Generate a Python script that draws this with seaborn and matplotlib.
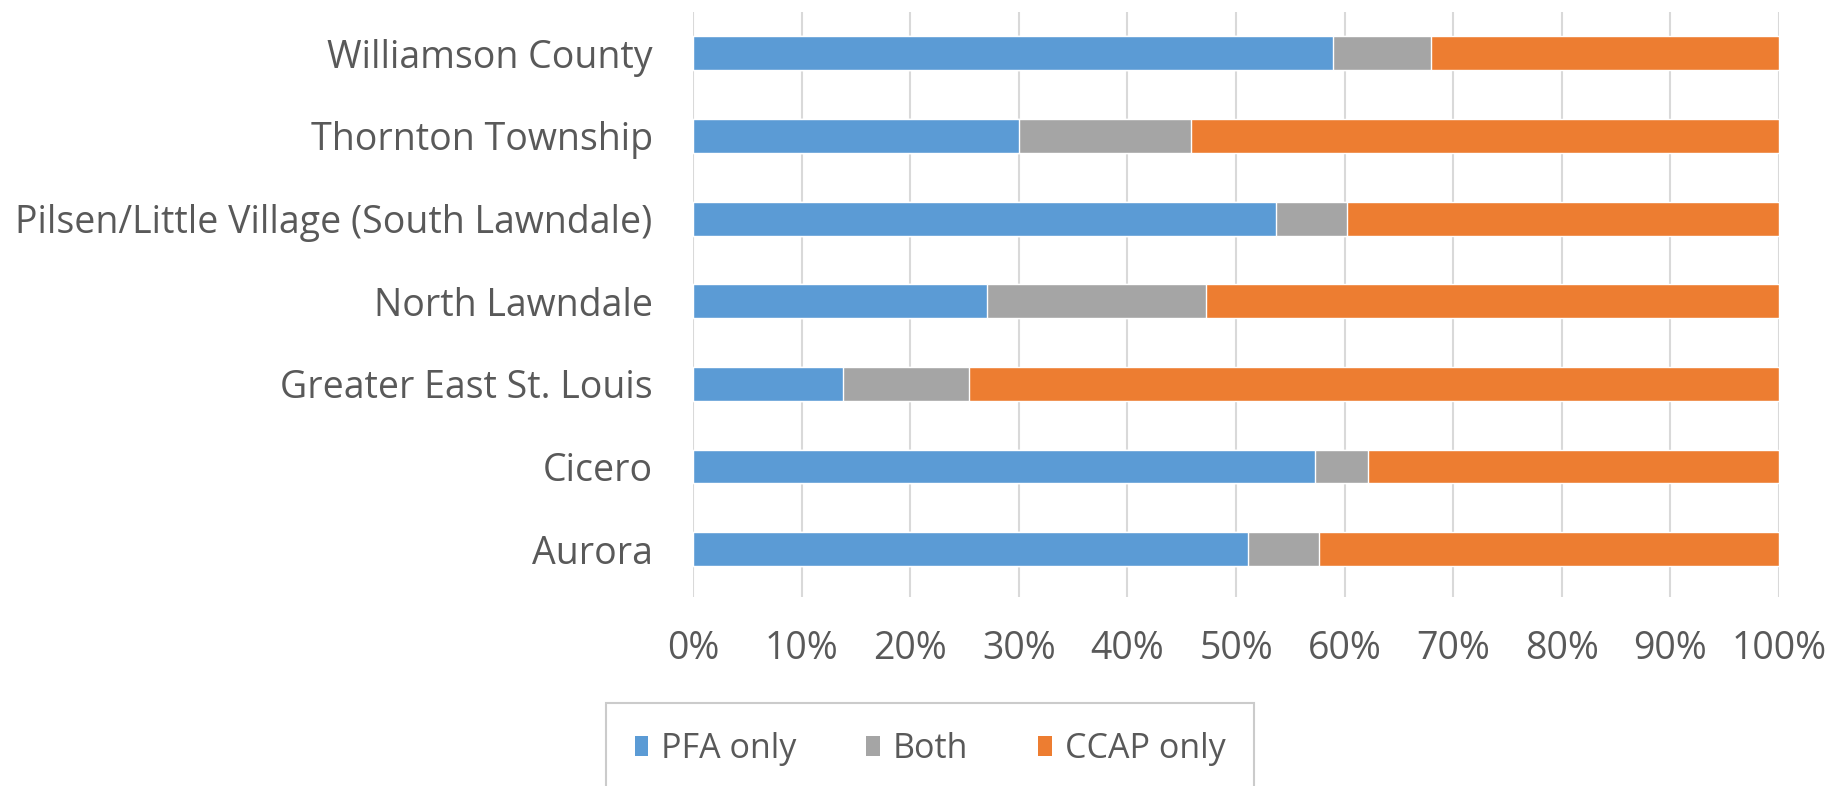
import matplotlib
matplotlib.use("Agg")
import matplotlib.pyplot as plt
import seaborn as sns
import numpy as np
import pandas as pd
from matplotlib.patches import Patch
from matplotlib.ticker import PercentFormatter

categories = ["Williamson County", "Thornton Township", "Pilsen/Little Village (South Lawndale)",
              "North Lawndale", "Greater East St. Louis", "Cicero", "Aurora"]
pfa_only = [58.9, 30.0, 53.7, 27.1, 13.8, 57.3, 51.1]
both = [9.1, 15.9, 6.5, 20.1, 11.6, 4.9, 6.5]
ccap_only = [100 - p - b for p, b in zip(pfa_only, both)]
series_names = ["PFA only", "Both", "CCAP only"]
colors = ["#5B9BD5", "#A5A5A5", "#ED7D31"]
xticks = list(range(0, 101, 10))

sns.set_theme(style="white")
plt.rcParams['font.family'] = ['Open Sans', 'DejaVu Sans']

df = pd.DataFrame({"cat": categories, "pfa": pfa_only, "both": both, "ccap": ccap_only})
df["cum_both"] = df["pfa"] + df["both"]
df["cum_all"] = df["cum_both"] + df["ccap"]

fig = plt.figure(figsize=(18.35, 7.86), dpi=100)
ax = fig.add_axes([693/1835, 1-597/786, (1779-693)/1835, (597-12)/786])

bw = 0.41
sns.barplot(data=df, y="cat", x="cum_all", color=colors[2], orient="h", width=bw,
            saturation=1, ax=ax, zorder=3)
sns.barplot(data=df, y="cat", x="cum_both", color=colors[1], orient="h", width=bw,
            saturation=1, ax=ax, zorder=3)
sns.barplot(data=df, y="cat", x="pfa", color=colors[0], orient="h", width=bw,
            saturation=1, ax=ax, zorder=3)

ax.set_xlim(0, 100)
ax.set_ylim(6.58, -0.5)
ax.set_xticks(xticks)
ax.xaxis.set_major_formatter(PercentFormatter(decimals=0))
ax.set_xlabel("")
ax.set_ylabel("")
ax.grid(axis="x", color="#D9D9D9", linewidth=1.5, zorder=0)
ax.grid(axis="y", visible=False)
for s in ax.spines.values():
    s.set_visible(False)
ax.tick_params(axis="both", length=0, colors="#595959", labelsize=27)
ax.tick_params(axis="y", pad=29)
ax.tick_params(axis="x", pad=24)

handles = [Patch(facecolor=c, edgecolor="none") for c in colors]
leg = fig.legend(handles, series_names, loc="upper center",
                 bbox_to_anchor=(930/1835, 1-703/786), ncol=3, frameon=True,
                 fontsize=24.5, handlelength=0.4, handleheight=0.55, handletextpad=0.38,
                 columnspacing=2.05, borderpad=0.85, fancybox=False, borderaxespad=0)
leg.get_frame().set_edgecolor("#BFBFBF")
leg.get_frame().set_linewidth(1.5)
for t in leg.get_texts():
    t.set_color("#595959")

fig.savefig("out.png", dpi=100)
